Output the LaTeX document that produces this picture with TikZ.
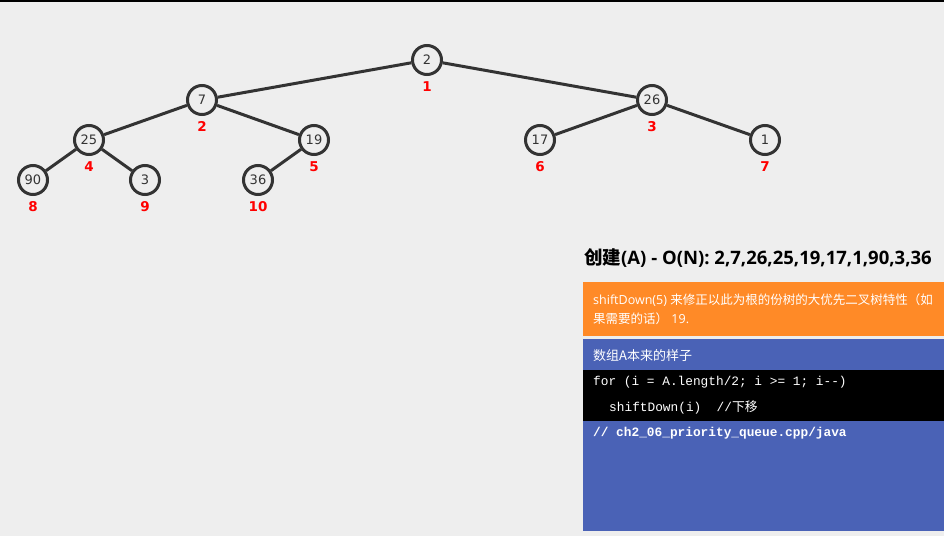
\documentclass[tikz,border=0pt]{standalone}
\usepackage{fontspec}
\setmainfont{Open Sans}
\setmonofont{Liberation Mono}
\newfontfamily\cjk{Noto Sans CJK SC}
\newfontfamily\vfont{DejaVu Sans}
\usetikzlibrary{positioning}
\definecolor{bgray}{HTML}{EEEEEE}
\definecolor{edgegray}{HTML}{333333}
\definecolor{vorange}{HTML}{FF8A27}
\definecolor{vblue}{HTML}{4A62B6}

\begin{document}
\begin{tikzpicture}[x=1pt,y=-1pt,
  vert/.style={circle, draw=edgegray, line width=3pt, fill=bgray, minimum size=29pt, inner sep=0pt, text=edgegray, font=\fontsize{13}{13}\selectfont\vfont},
  idx/.style={text=red, inner sep=0pt, font=\fontsize{13.5}{13.5}\selectfont\vfont\bfseries},
  label distance=5.5pt,
  link/.style={edgegray, line width=3pt},
  txt/.style={anchor=west, inner sep=0pt, text=white}]
\useasboundingbox (0,0) rectangle (944,536);
\fill[bgray] (0,0) rectangle (944,536);
\draw[black, line width=1.5pt] (0,0.75) -- (944,0.75);

% the heap
\node[vert, label={[idx]below:1}] (2) at (427,60) {2};
\node[vert, label={[idx]below:2}] (7) at (202,100) {7};
\node[vert, label={[idx]below:3}] (26) at (652,100) {26};
\node[vert, label={[idx]below:4}] (25) at (89,140) {25};
\node[vert, label={[idx]below:5}] (19) at (314,140) {19};
\node[vert, label={[idx]below:6}] (17) at (540,140) {17};
\node[vert, label={[idx]below:7}] (1) at (765,140) {1};
\node[vert, label={[idx]below:8}] (90) at (33,180) {90};
\node[vert, label={[idx]below:9}] (3) at (145,180) {3};
\node[vert, label={[idx]below:10}] (36) at (258,180) {36};

\draw[link] (2)--(7);
\draw[link] (2)--(26);
\draw[link] (7)--(25);
\draw[link] (7)--(19);
\draw[link] (26)--(17);
\draw[link] (26)--(1);
\draw[link] (25)--(90);
\draw[link] (25)--(3);
\draw[link] (19)--(36);

% the panel
\node[anchor=west, inner sep=0pt, font=\fontsize{18.5}{18.5}\selectfont\bfseries] (title) at (584,258) {{\cjk 创建}(A) - O(N): 2,7,26,25,19,17,1,90,3,36};
\fill[vorange] (583,282) rectangle (944,336);
\node[txt, anchor=north west, align=left, font=\fontsize{12.5}{19}\selectfont] (hint) at (593,294) {shiftDown(5) {\cjk 来修正以此为根的份树的大优先二叉树特性（如}\\{\cjk 果需要的话）} 19.};
\fill[vblue] (583,339) rectangle (944,531);
\fill[black] (583,370) rectangle (944,421);
\node[txt, font=\fontsize{13}{13}\selectfont\cjk] (code0) at (593,356) {数组A本来的样子};
\node[txt, font=\fontsize{12.8}{12.8}\selectfont\ttfamily] (code1) at (593,382) {for (i = A.length/2; i >= 1; i--)};
\node[txt, font=\fontsize{12.8}{12.8}\selectfont\ttfamily] (code2) at (609,407) {shiftDown(i)\ \ //{\cjk 下移}};
\node[txt, font=\fontsize{12.8}{12.8}\selectfont\ttfamily\bfseries] (code3) at (593,433) {// ch2\_06\_priority\_queue.cpp/java};
\end{tikzpicture}
\end{document}
